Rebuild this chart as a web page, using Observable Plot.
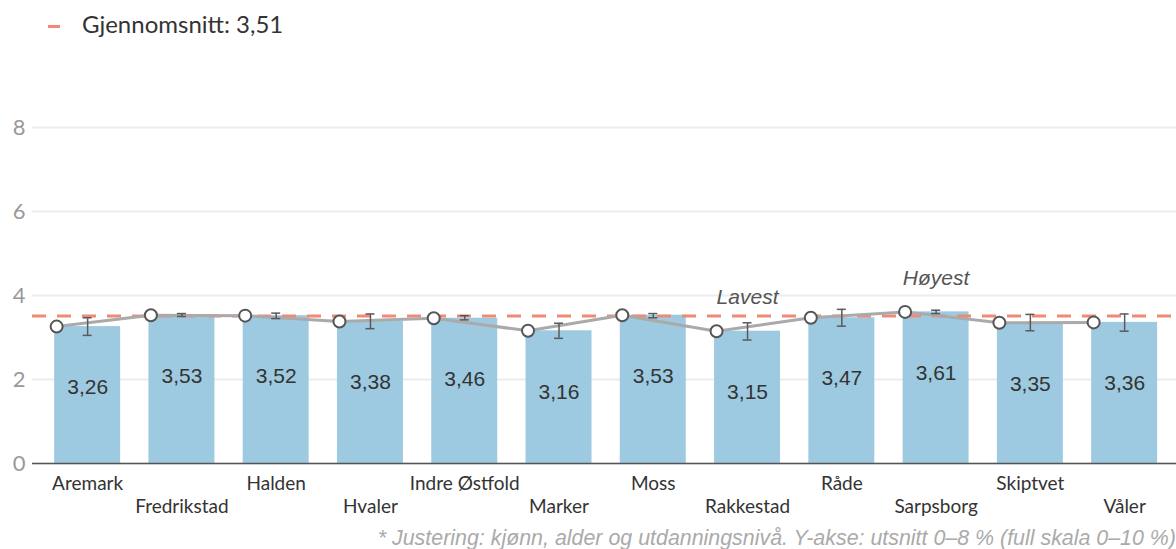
<!DOCTYPE html>
<html>
<head>
<meta charset="utf-8">
<script src="https://cdn.jsdelivr.net/npm/d3@7"></script>
<script src="https://cdn.jsdelivr.net/npm/@observablehq/plot@0.6"></script>
<style>
  html, body { margin: 0; padding: 0; background: #fff; }
  #wrap { width: 1176px; height: 549px; position: relative; overflow: hidden; }
  #legend { height: 55px; position: relative; font-family: Lato, "Noto Sans", sans-serif; font-size: 24px; color: #333; }
  #legend .sw { position: absolute; left: 48px; top: 25px; width: 12px; height: 3px; background: #f08a75; }
  #legend .lbl { position: absolute; left: 82px; top: 12px; line-height: 1; }
  #caption { height: 34px; box-sizing: border-box; padding-top: 13px; text-align: right; font-family: "Liberation Sans Narrow", "Arial Narrow", "Liberation Sans", sans-serif; font-style: italic; font-size: 21.4px; line-height: 1; color: #aaa; white-space: nowrap; }
  svg { display: block; }
</style>
</head>
<body>
<div id="wrap">
  <div id="legend"><div class="sw"></div><div class="lbl"></div></div>
  <div id="chart"></div>
  <div id="caption"></div>
</div>
<script>
const names = ["Aremark","Fredrikstad","Halden","Hvaler","Indre Østfold","Marker","Moss","Rakkestad","Råde","Sarpsborg","Skiptvet","Våler"];
const values = [3.26,3.53,3.52,3.38,3.46,3.16,3.53,3.15,3.47,3.61,3.35,3.36];
const lower = [3.05,3.50,3.45,3.21,3.42,2.98,3.47,2.94,3.27,3.57,3.16,3.15];
const upper = [3.47,3.57,3.58,3.56,3.52,3.34,3.57,3.35,3.67,3.65,3.55,3.56];
const mean = 3.51;
const yTicks = [0,2,4,6,8];
const annotations = [{name: "Rakkestad", value: 3.15, text: "Lavest"}, {name: "Sarpsborg", value: 3.61, text: "Høyest"}];
const legendText = "Gjennomsnitt: 3,51";
const captionText = "* Justering: kjønn, alder og utdanningsnivå. Y-akse: utsnitt 0–8 % (full skala 0–10 %)";

const fmt = v => v.toFixed(2).replace(".", ",");
const data = names.map((name, i) => ({name, value: values[i], lo: lower[i], hi: upper[i], i}));

document.querySelector("#legend .lbl").textContent = legendText;
document.getElementById("caption").textContent = captionText;

const bw = 66;
const chart = Plot.plot({
  width: 1176,
  height: 460,
  marginLeft: 32,
  marginRight: 0,
  marginTop: 72,
  marginBottom: 52,
  style: {background: "transparent", overflow: "visible"},
  x: {domain: names, paddingInner: 0.3, paddingOuter: 0.2175, align: 0.54, round: false, axis: null},
  y: {domain: [0, 8], axis: null},
  marks: [
    Plot.gridY(yTicks, {stroke: "#ececec", strokeOpacity: 1, strokeWidth: 2}),
    Plot.axisY(yTicks, {tickSize: 0, tickPadding: 7, fontSize: 22, fill: "#999", fontFamily: "Lato, 'Noto Sans', sans-serif", label: null}),
    Plot.barY(data, {x: "name", y: "value", fill: "#9ecae1"}),
    Plot.ruleY([mean], {stroke: "#f08a75", strokeWidth: 3, strokeDasharray: "14,11"}),
    Plot.ruleY([0], {stroke: "#555", strokeWidth: 1.5}),
    Plot.line(data, {x: "name", y: "value", dx: -31, stroke: "#aaa", strokeWidth: 3}),
    Plot.dot(data, {x: "name", y: "value", dx: -31, r: 6, fill: "#fff", stroke: "#555", strokeWidth: 2}),
    Plot.ruleX(data, {x: "name", y1: "lo", y2: "hi", stroke: "#5a5a5a", strokeWidth: 1.5}),
    Plot.tickY(data, {x: "name", y: "lo", stroke: "#5a5a5a", strokeWidth: 1.5, insetLeft: (bw - 9) / 2, insetRight: (bw - 9) / 2}),
    Plot.tickY(data, {x: "name", y: "hi", stroke: "#5a5a5a", strokeWidth: 1.5, insetLeft: (bw - 9) / 2, insetRight: (bw - 9) / 2}),
    Plot.text(data, {x: "name", y: "value", text: d => fmt(d.value), dy: 61, fontSize: 21, fill: "#333", fontFamily: "'Liberation Sans', Arial, sans-serif"}),
    Plot.text(annotations, {x: "name", y: "value", text: "text", dy: -34, fontSize: 21, fill: "#555", fontStyle: "italic", fontFamily: "'Liberation Sans', Arial, sans-serif"}),
    Plot.text(data.filter(d => d.i % 2 === 0), {x: "name", y: 0, text: "name", dy: 20, fontSize: 19, fill: "#333", fontFamily: "Lato, 'Noto Sans', sans-serif"}),
    Plot.text(data.filter(d => d.i % 2 === 1), {x: "name", y: 0, text: "name", dy: 43, fontSize: 19, fill: "#333", fontFamily: "Lato, 'Noto Sans', sans-serif"})
  ]
});
document.getElementById("chart").appendChild(chart);
</script>
</body>
</html>
